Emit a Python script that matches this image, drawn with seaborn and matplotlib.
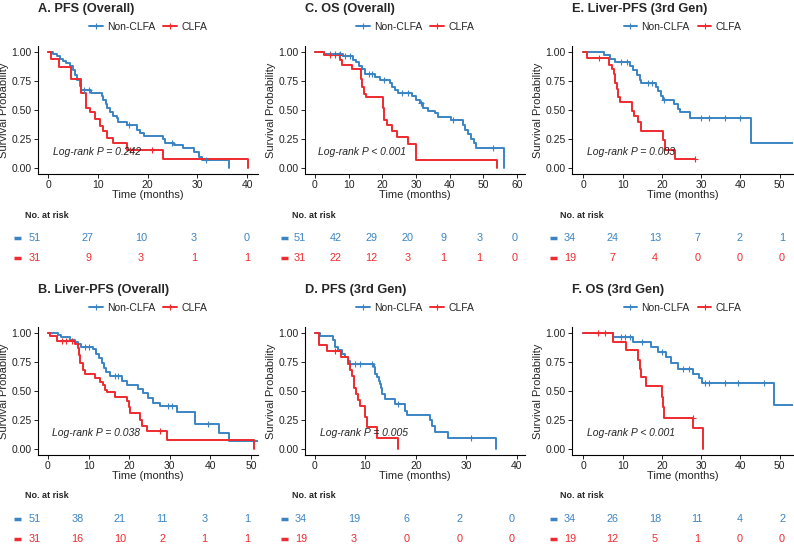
import numpy as np
import matplotlib
matplotlib.use("Agg")
import matplotlib.pyplot as plt
from matplotlib.lines import Line2D
import seaborn as sns

# Kaplan-Meier steps: times (months) and survival after each step.
# A. PFS (Overall)
a_non_t = [0, 1.0, 1.8, 2.4, 3.1, 3.7, 4.4, 5.0, 5.4, 5.8, 6.4, 6.7, 8.7, 10.8, 11.1, 11.6, 11.9,
           12.4, 13.0, 13.8, 14.1, 15.8, 17.8, 18.5, 19.2, 23.1, 23.5, 25.3, 27.2, 29.3, 30.3, 31.0, 36.3]
a_non_s = [1, 0.98, 0.96, 0.94, 0.92, 0.90, 0.88, 0.84, 0.80, 0.76, 0.71, 0.67, 0.645, 0.62, 0.59, 0.55, 0.52,
           0.48, 0.45, 0.43, 0.40, 0.37, 0.33, 0.30, 0.28, 0.25, 0.22, 0.20, 0.17, 0.135, 0.10, 0.07, 0.0]
a_non_c = [7.2, 8.2, 16.2, 25.0, 31.8]
a_clfa_t = [0, 0.7, 2.2, 4.7, 6.7, 7.6, 8.4, 9.4, 10.4, 11.1, 11.9, 13.1, 15.9, 23.2, 40.2]
a_clfa_s = [1, 0.935, 0.87, 0.77, 0.65, 0.52, 0.48, 0.42, 0.36, 0.32, 0.26, 0.22, 0.16, 0.08, 0.0]
a_clfa_c = [16.5, 20.8]

# B. Liver-PFS (Overall)
b_non_t = [0, 2.5, 3.3, 5.4, 6.6, 7.4, 8.2, 11.1, 11.9, 12.6, 13.2, 13.7, 14.4, 15.2, 18.1, 19.4, 22.2,
           23.5, 24.7, 25.9, 27.6, 31.7, 36.2, 42.0, 44.5, 52.5]
b_non_s = [1, 0.98, 0.96, 0.94, 0.92, 0.90, 0.88, 0.86, 0.82, 0.78, 0.74, 0.70, 0.66, 0.63, 0.59, 0.55, 0.52,
           0.48, 0.44, 0.40, 0.37, 0.32, 0.215, 0.14, 0.07, 0.07]
b_non_c = [9.0, 10.0, 16.5, 17.2, 29.5, 30.5, 39.5]
b_clfa_t = [0, 0.4, 2.1, 6.6, 7.4, 7.7, 8.0, 8.5, 9.1, 11.5, 12.8, 13.6, 14.0, 14.5, 16.5, 19.4, 20.0,
            20.3, 22.7, 23.1, 24.3, 29.2, 50.8]
b_clfa_s = [1, 0.97, 0.93, 0.90, 0.87, 0.81, 0.74, 0.68, 0.65, 0.61, 0.58, 0.55, 0.51, 0.49, 0.45, 0.41, 0.36,
            0.31, 0.25, 0.20, 0.155, 0.078, 0.0]
b_clfa_c = [3.5, 4.5, 6.0, 27.5]

# C. OS (Overall)
c_non_t = [0, 2.8, 8.4, 11.4, 12.3, 13.0, 14.0, 15.0, 17.8, 19.3, 22.2, 22.9, 23.7, 24.7, 28.7, 30.1, 31.1,
           32.1, 33.6, 35.6, 36.6, 40.5, 44.0, 44.6, 45.5, 46.5, 47.2, 47.9, 56.3]
c_non_s = [1, 0.98, 0.96, 0.93, 0.91, 0.88, 0.85, 0.81, 0.78, 0.76, 0.73, 0.70, 0.67, 0.65, 0.62, 0.59, 0.56,
           0.52, 0.49, 0.47, 0.44, 0.41, 0.37, 0.33, 0.29, 0.25, 0.22, 0.17, 0.0]
c_non_c = [4.5, 6.0, 7.5, 9.0, 10.5, 16.0, 17.0, 20.5, 26.0, 27.5, 31.5, 41.0, 52.8]
c_clfa_t = [0, 2.8, 7.4, 8.1, 11.1, 13.6, 14.0, 14.6, 15.1, 20.1, 20.5, 21.3, 22.8, 24.5, 27.5, 30.0, 54.2]
c_clfa_s = [1, 0.97, 0.93, 0.89, 0.85, 0.77, 0.70, 0.64, 0.61, 0.52, 0.41, 0.37, 0.32, 0.27, 0.21, 0.07, 0.0]
c_clfa_c = [4.5, 6.0, 7.0]

# D. PFS (3rd Gen)
d_non_t = [0, 0.9, 3.6, 3.9, 4.6, 5.4, 6.0, 6.6, 7.0, 11.6, 11.9, 12.2, 12.6, 12.9, 13.1, 13.2, 13.9,
           15.9, 17.9, 18.2, 22.8, 23.1, 23.8, 26.4, 35.8]
d_non_s = [1, 0.97, 0.94, 0.88, 0.85, 0.82, 0.79, 0.76, 0.735, 0.71, 0.65, 0.62, 0.59, 0.56, 0.53, 0.47, 0.43,
           0.39, 0.33, 0.295, 0.25, 0.20, 0.15, 0.10, 0.0]
d_non_c = [8.0, 9.0, 11.3, 16.5, 31.0]
d_clfa_t = [0, 0.7, 2.3, 5.2, 6.5, 7.0, 7.4, 7.8, 8.1, 8.6, 8.9, 9.9, 10.4, 12.2, 16.5]
d_clfa_s = [1, 0.895, 0.84, 0.79, 0.735, 0.68, 0.63, 0.53, 0.47, 0.42, 0.37, 0.28, 0.19, 0.095, 0.0]
d_clfa_c = [4.0]

# E. Liver-PFS (3rd Gen)
e_non_t = [0, 5.3, 6.8, 8.1, 11.9, 12.7, 13.7, 14.4, 14.8, 18.5, 19.1, 19.9, 20.3, 23.1, 24.2, 24.6,
           27.1, 42.8, 53.5]
e_non_s = [1, 0.97, 0.94, 0.91, 0.88, 0.84, 0.80, 0.76, 0.735, 0.70, 0.66, 0.62, 0.59, 0.55, 0.51, 0.48,
           0.43, 0.215, 0.215]
e_non_c = [9.5, 11.0, 16.5, 17.5, 20.5, 30.0, 32.0, 36.0, 40.0]
e_clfa_t = [0, 0.8, 6.4, 7.2, 7.7, 8.1, 8.6, 8.9, 9.3, 12.3, 13.0, 14.0, 14.8, 20.3, 20.8, 23.4, 28.4]
e_clfa_s = [1, 0.945, 0.89, 0.85, 0.81, 0.73, 0.68, 0.61, 0.565, 0.49, 0.445, 0.40, 0.32, 0.24, 0.16, 0.08, 0.08]
e_clfa_c = [4.0, 21.5, 28.4]

# F. OS (3rd Gen)
f_non_t = [0, 7.5, 12.6, 17.2, 18.9, 21.1, 22.4, 24.1, 28.0, 29.5, 30.1, 48.6, 53.5]
f_non_s = [1, 0.96, 0.92, 0.875, 0.835, 0.79, 0.74, 0.69, 0.65, 0.61, 0.57, 0.38, 0.38]
f_non_c = [9.5, 10.5, 12.0, 15.0, 20.0, 25.5, 27.0, 31.0, 32.0, 36.0, 39.5, 46.0]
f_clfa_t = [0, 7.5, 10.9, 13.8, 14.3, 14.8, 16.0, 20.0, 20.3, 20.6, 28.0, 30.4]
f_clfa_s = [1, 0.92, 0.85, 0.77, 0.69, 0.62, 0.54, 0.45, 0.36, 0.27, 0.18, 0.0]
f_clfa_c = [3.7, 5.6, 27.8]

# numbers at risk
a_risk_t = [0, 10, 20, 30, 40]
a_risk_non = [51, 27, 10, 3, 0]
a_risk_clfa = [31, 9, 3, 1, 1]
b_risk_t = [0, 10, 20, 30, 40, 50]
b_risk_non = [51, 38, 21, 11, 3, 1]
b_risk_clfa = [31, 16, 10, 2, 1, 1]
c_risk_t = [0, 10, 20, 30, 40, 50, 60]
c_risk_non = [51, 42, 29, 20, 9, 3, 0]
c_risk_clfa = [31, 22, 12, 3, 1, 1, 0]
d_risk_t = [0, 10, 20, 30, 40]
d_risk_non = [34, 19, 6, 2, 0]
d_risk_clfa = [19, 3, 0, 0, 0]
e_risk_t = [0, 10, 20, 30, 40, 50]
e_risk_non = [34, 24, 13, 7, 2, 1]
e_risk_clfa = [19, 7, 4, 0, 0, 0]
f_risk_t = [0, 10, 20, 30, 40, 50]
f_risk_non = [34, 26, 18, 11, 4, 2]
f_risk_clfa = [19, 12, 5, 1, 0, 0]

titles = ["A. PFS (Overall)", "B. Liver-PFS (Overall)", "C. OS (Overall)",
          "D. PFS (3rd Gen)", "E. Liver-PFS (3rd Gen)", "F. OS (3rd Gen)"]
pvals = ["Log-rank P = 0.242", "Log-rank P = 0.038", "Log-rank P < 0.001",
         "Log-rank P = 0.005", "Log-rank P = 0.003", "Log-rank P < 0.001"]
groups = ["Non-CLFA", "CLFA"]

sns.set_theme(style="ticks")
plt.rcParams['font.family'] = ['Liberation Sans', 'DejaVu Sans']

BLUE = "#3b84c4"
RED = "#ee2b2f"
W, H = 794, 544
fig = plt.figure(figsize=(W / 100, H / 100), dpi=100)


def px_axes(x0, y0, x1, y1):
    return fig.add_axes([x0 / W, 1 - y1 / H, (x1 - x0) / W, (y1 - y0) / H])


def surv_at(t, s, x):
    i = np.searchsorted(t, x, side='right') - 1
    return np.asarray(s)[i]


def km_panel(box, xlim, xticks, title, pval, curves):
    ax = px_axes(*box)
    hgt = box[3] - box[1]
    for t, s, cens, col in curves:
        sns.lineplot(x=t, y=s, ax=ax, color=col, drawstyle='steps-post',
                     estimator=None, sort=False, linewidth=1.4)
        sns.scatterplot(x=cens, y=surv_at(t, s, cens), ax=ax, marker='+',
                        color=col, s=16, linewidth=0.8, zorder=3)
    ax.set_xlim(*xlim)
    ax.set_ylim(-0.05, 1.05)
    ax.set_xticks(xticks)
    ax.set_yticks([0, 0.25, 0.5, 0.75, 1.0])
    ax.set_yticklabels(["0.00", "0.25", "0.50", "0.75", "1.00"])
    ax.tick_params(labelsize=7.5, length=3, width=0.7, pad=1.5, colors='#222222')
    for sp in ['left', 'bottom']:
        ax.spines[sp].set_linewidth(0.8)
        ax.spines[sp].set_color('black')
    sns.despine(ax=ax)
    ax.set_xlabel("Time (months)", fontsize=8)
    ax.set_ylabel("Survival Probability", fontsize=8)
    ax.xaxis.set_label_coords(0.5, -0.125)
    ax.yaxis.set_label_coords(-0.13, 0.5)
    ax.text(1.0, 0.14, pval, fontsize=7.5, style='italic', va='center', ha='left')
    ax.text(0, 1 + 37 / hgt, title, transform=ax.transAxes, fontsize=9.2,
            fontweight='bold', va='center', ha='left')
    handles = [Line2D([], [], color=BLUE, lw=1.4, marker='+', ms=4, mew=0.8),
               Line2D([], [], color=RED, lw=1.4, marker='+', ms=4, mew=0.8)]
    ax.legend(handles, groups, loc='center', bbox_to_anchor=(0.5, 1 + 19 / hgt),
              ncol=2, frameon=False, fontsize=7.5, handlelength=1.3,
              columnspacing=0.8, handletextpad=0.4, borderpad=0)
    return ax


def risk_panel(x0, x1, head_y, rows_y, times, non, clfa, dash_x, head_x):
    ax = px_axes(x0, rows_y[0] - 10, x1, rows_y[1] + 10)
    tmax = times[-1]
    ax.set_xlim(0, tmax)
    ax.set_ylim(rows_y[1] + 10, rows_y[0] - 10)
    ax.axis('off')
    to_t = lambda px: (px - x0) / (x1 - x0) * tmax
    ax.text(to_t(head_x), head_y, "No. at risk", fontsize=6.5, fontweight='bold',
            va='center', ha='left')
    for y, vals, col in [(rows_y[0], non, BLUE), (rows_y[1], clfa, RED)]:
        ax.plot([to_t(dash_x), to_t(dash_x + 7)], [y, y], color=col, lw=2.5,
                solid_capstyle='butt', clip_on=False)
        for tt, v in zip(times, vals):
            ax.text(tt, y, str(v), color=col, fontsize=7.8, va='center', ha='center')


km_panel((38, 46, 258, 174), (-2.01, 42.2), a_risk_t, titles[0], pvals[0],
         [(a_non_t, a_non_s, a_non_c, BLUE), (a_clfa_t, a_clfa_s, a_clfa_c, RED)])
km_panel((38, 327, 258, 455), (-2.46, 51.7), b_risk_t, titles[1], pvals[1],
         [(b_non_t, b_non_s, b_non_c, BLUE), (b_clfa_t, b_clfa_s, b_clfa_c, RED)])
km_panel((305, 46, 525, 174), (-2.97, 62.4), c_risk_t, titles[2], pvals[2],
         [(c_non_t, c_non_s, c_non_c, BLUE), (c_clfa_t, c_clfa_s, c_clfa_c, RED)])
km_panel((305, 327, 525, 455), (-1.98, 41.6), d_risk_t, titles[3], pvals[3],
         [(d_non_t, d_non_s, d_non_c, BLUE), (d_clfa_t, d_clfa_s, d_clfa_c, RED)])
km_panel((572, 46, 793, 174), (-2.9, 53.4), e_risk_t, titles[4], pvals[4],
         [(e_non_t, e_non_s, e_non_c, BLUE), (e_clfa_t, e_clfa_s, e_clfa_c, RED)])
km_panel((572, 327, 793, 455), (-2.9, 53.4), f_risk_t, titles[5], pvals[5],
         [(f_non_t, f_non_s, f_non_c, BLUE), (f_clfa_t, f_clfa_s, f_clfa_c, RED)])

risk_panel(35, 247, 215, (238, 258), a_risk_t, a_risk_non, a_risk_clfa, 14, 25)
risk_panel(35, 247, 496, (519, 539), b_risk_t, b_risk_non, b_risk_clfa, 14, 25)
risk_panel(300, 515, 215, (238, 258), c_risk_t, c_risk_non, c_risk_clfa, 281, 292)
risk_panel(301, 512, 496, (519, 539), d_risk_t, d_risk_non, d_risk_clfa, 281, 292)
risk_panel(570, 782, 215, (238, 258), e_risk_t, e_risk_non, e_risk_clfa, 550, 560)
risk_panel(570, 782, 496, (519, 539), f_risk_t, f_risk_non, f_risk_clfa, 550, 560)

fig.savefig("out.png", dpi=100)
